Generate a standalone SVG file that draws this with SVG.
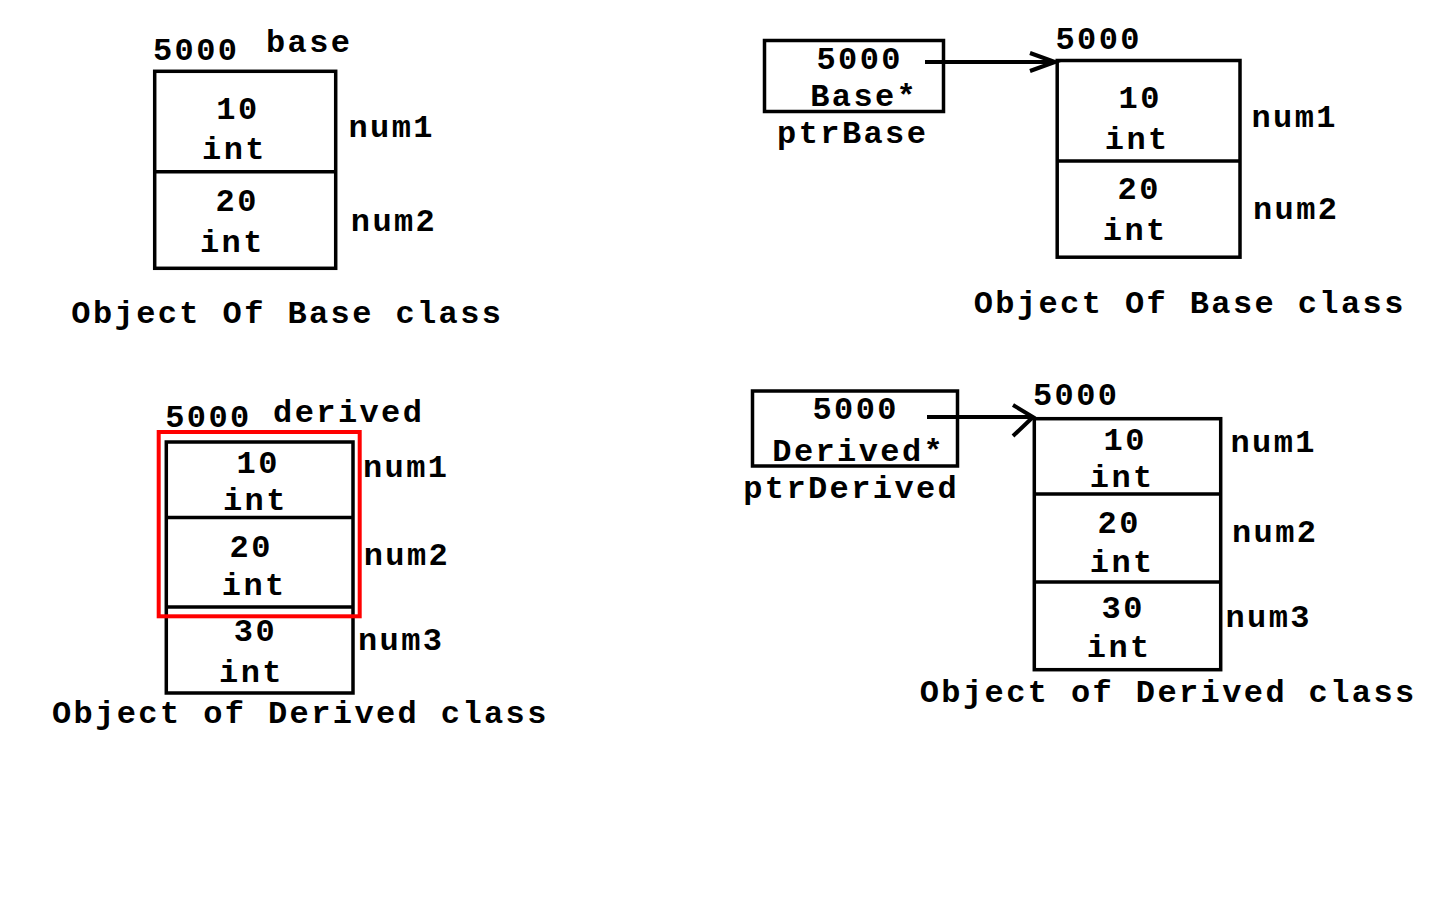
<svg xmlns="http://www.w3.org/2000/svg" width="1440" height="900" viewBox="0 0 1440 900">
<style>
text{font-family:"Liberation Mono","DejaVu Sans Mono",monospace;font-weight:bold;font-size:32px;letter-spacing:2.4px;fill:#000;text-anchor:middle}
.box{fill:none;stroke:#000;stroke-width:3.5}
.div{stroke:#000;stroke-width:3.5}
.hl{fill:none;stroke:#ff0000;stroke-width:4}
.conn{fill:none;stroke:#000;stroke-width:4;stroke-linecap:butt}
</style>
<rect width="1440" height="900" fill="#fff"/>

<g id="base-object" transform="translate(1.2,0)">
<rect class="box" x="153.5" y="71.3" width="181" height="197"/>
<line class="div" x1="153.5" y1="171.7" x2="334.5" y2="171.7"/>
<text x="195" y="60">5000</text>
<text x="308" y="52">base</text>
<text x="236.7" y="119">10</text>
<text x="233.3" y="159.3">int</text>
<text x="390.5" y="137.3">num1</text>
<text x="236" y="210.7">20</text>
<text x="231.2" y="251.7">int</text>
<text x="392.8" y="230.7">num2</text>
<text x="286.2" y="323.3">Object Of Base class</text>
</g>

<g id="ptrBase" transform="translate(1.2,0)">
<rect class="box" x="763.3" y="40.5" width="179" height="71"/>
<text x="858.5" y="69">5000</text>
<text x="863" y="106">Base*</text>
<text x="851.5" y="143">ptrBase</text>
</g>

<g id="base-object-2" transform="translate(1.2,0)">
<rect class="box" x="1056" y="60.5" width="182.8" height="196.7"/>
<line class="div" x1="1056" y1="161" x2="1238.8" y2="161"/>
<text x="1097.5" y="48.5">5000</text>
<text x="1139" y="107.5">10</text>
<text x="1136" y="148.5">int</text>
<text x="1293.5" y="126.5">num1</text>
<text x="1138" y="198.5">20</text>
<text x="1134" y="240">int</text>
<text x="1295" y="218.5">num2</text>
<text x="1188.5" y="313">Object Of Base class</text>
</g>

<g id="derived-object" transform="translate(1.2,0)">
<rect class="box" x="165.1" y="442" width="186.7" height="251"/>
<line class="div" x1="165.1" y1="517.5" x2="351.8" y2="517.5"/>
<line class="div" x1="165.1" y1="607" x2="351.8" y2="607"/>
<rect class="hl" x="157.5" y="432" width="201" height="184.3"/>
<text x="207.2" y="427.3">5000</text>
<text x="347.5" y="421.7">derived</text>
<text x="257" y="473.3">10</text>
<text x="254.2" y="510">int</text>
<text x="405" y="477.3">num1</text>
<text x="250" y="556.7">20</text>
<text x="253" y="595">int</text>
<text x="405.7" y="565">num2</text>
<text x="254.2" y="640.7">30</text>
<text x="250.3" y="681.7">int</text>
<text x="400" y="650">num3</text>
<text x="299.2" y="723.3">Object of Derived class</text>
</g>

<g id="ptrDerived" transform="translate(1.2,0)">
<rect class="box" x="751.3" y="391" width="205" height="75"/>
<text x="854.5" y="418.5">5000</text>
<text x="857.5" y="461">Derived*</text>
<text x="850" y="498">ptrDerived</text>
</g>

<g id="derived-object-2" transform="translate(1.2,0)">
<rect class="box" x="1033.1" y="418.7" width="186.4" height="251"/>
<line class="div" x1="1033.1" y1="494" x2="1219.5" y2="494"/>
<line class="div" x1="1033.1" y1="582" x2="1219.5" y2="582"/>
<text x="1075" y="405">5000</text>
<text x="1124" y="450">10</text>
<text x="1121" y="487">int</text>
<text x="1272.5" y="452">num1</text>
<text x="1118" y="533">20</text>
<text x="1121" y="572">int</text>
<text x="1274" y="542">num2</text>
<text x="1122" y="618">30</text>
<text x="1118" y="657">int</text>
<text x="1267.5" y="627">num3</text>
<text x="1167" y="702">Object of Derived class</text>
</g>

<g id="connectors">
<line class="conn" x1="925" y1="62" x2="1055" y2="62"/>
<polyline class="conn" points="1030,53 1055,62 1030,71"/>
<line class="conn" x1="927" y1="417" x2="1033" y2="417"/>
<polyline class="conn" points="1013,405 1033,417 1013,436"/>
</g>
</svg>
